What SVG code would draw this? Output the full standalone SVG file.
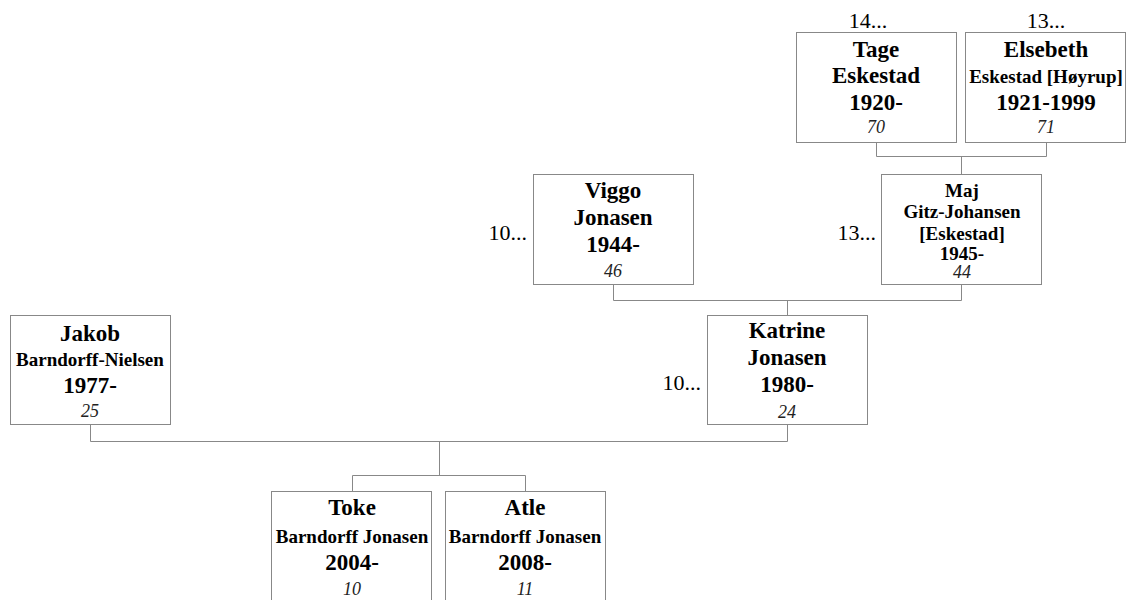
<svg xmlns="http://www.w3.org/2000/svg" width="1142" height="600" viewBox="0 0 1142 600">
<style>
.box{fill:#fff;stroke:#888;stroke-width:1}
.con{fill:none;stroke:#888;stroke-width:1}
text{font-family:"Liberation Serif","Times New Roman",serif;fill:#000;text-anchor:middle}
.n{font-weight:bold;font-size:23px}
.s{font-weight:bold;font-size:19px}
.a{font-style:italic;font-size:18px;fill:#222}
.m{font-size:22px}
.e{font-size:22px;text-anchor:end}
</style>
<rect width="1142" height="600" fill="#fff"/>
<g id="connectors">
<path class="con" d="M876.5 142.5V156.5H1046.5V142.5M961.5 156.5V174.5"/>
<path class="con" d="M613.5 284.5V300.5H961.5V284.5M787.5 300.5V315.5"/>
<path class="con" d="M90.5 424.5V441.5H787.5V424.5M439.5 441.5V475.5M352.5 491.5V475.5H525.5V491.5"/>
</g>
<g id="tage">
<rect class="box" x="796.5" y="32.5" width="160" height="110"/>
<text class="m" x="868" y="28">14...</text>
<text class="n" x="876" y="57">Tage</text>
<text class="n" x="876" y="83">Eskestad</text>
<text class="n" x="876" y="110">1920-</text>
<text class="a" x="876" y="133">70</text>
</g>
<g id="elsebeth">
<rect class="box" x="965.5" y="32.5" width="160" height="110"/>
<text class="m" x="1046" y="28">13...</text>
<text class="n" x="1046" y="57">Elsebeth</text>
<text class="s" x="1046" y="83">Eskestad [Høyrup]</text>
<text class="n" x="1046" y="110">1921-1999</text>
<text class="a" x="1046" y="133">71</text>
</g>
<g id="viggo">
<rect class="box" x="533.5" y="174.5" width="160" height="110"/>
<text class="e" x="527" y="240">10...</text>
<text class="n" x="613" y="198">Viggo</text>
<text class="n" x="613" y="225">Jonasen</text>
<text class="n" x="613" y="252">1944-</text>
<text class="a" x="613" y="277">46</text>
</g>
<g id="maj">
<rect class="box" x="881.5" y="174.5" width="160" height="110"/>
<text class="e" x="876" y="240">13...</text>
<text class="s" x="962" y="197">Maj</text>
<text class="s" x="962" y="218">Gitz-Johansen</text>
<text class="s" x="962" y="240">[Eskestad]</text>
<text class="s" x="962" y="260">1945-</text>
<text class="a" x="962" y="278">44</text>
</g>
<g id="jakob">
<rect class="box" x="10.5" y="315.5" width="160" height="109"/>
<text class="n" x="90" y="341">Jakob</text>
<text class="s" x="90" y="366">Barndorff-Nielsen</text>
<text class="n" x="90" y="393">1977-</text>
<text class="a" x="90" y="417">25</text>
</g>
<g id="katrine">
<rect class="box" x="707.5" y="315.5" width="160" height="109"/>
<text class="e" x="701" y="390">10...</text>
<text class="n" x="787" y="338">Katrine</text>
<text class="n" x="787" y="365">Jonasen</text>
<text class="n" x="787" y="392">1980-</text>
<text class="a" x="787" y="418">24</text>
</g>
<g id="toke">
<rect class="box" x="271.5" y="491.5" width="160" height="112"/>
<text class="n" x="352" y="515">Toke</text>
<text class="s" x="352" y="543">Barndorff Jonasen</text>
<text class="n" x="352" y="570">2004-</text>
<text class="a" x="352" y="595">10</text>
</g>
<g id="atle">
<rect class="box" x="445.5" y="491.5" width="160" height="112"/>
<text class="n" x="525" y="515">Atle</text>
<text class="s" x="525" y="543">Barndorff Jonasen</text>
<text class="n" x="525" y="570">2008-</text>
<text class="a" x="525" y="595">11</text>
</g>
</svg>
